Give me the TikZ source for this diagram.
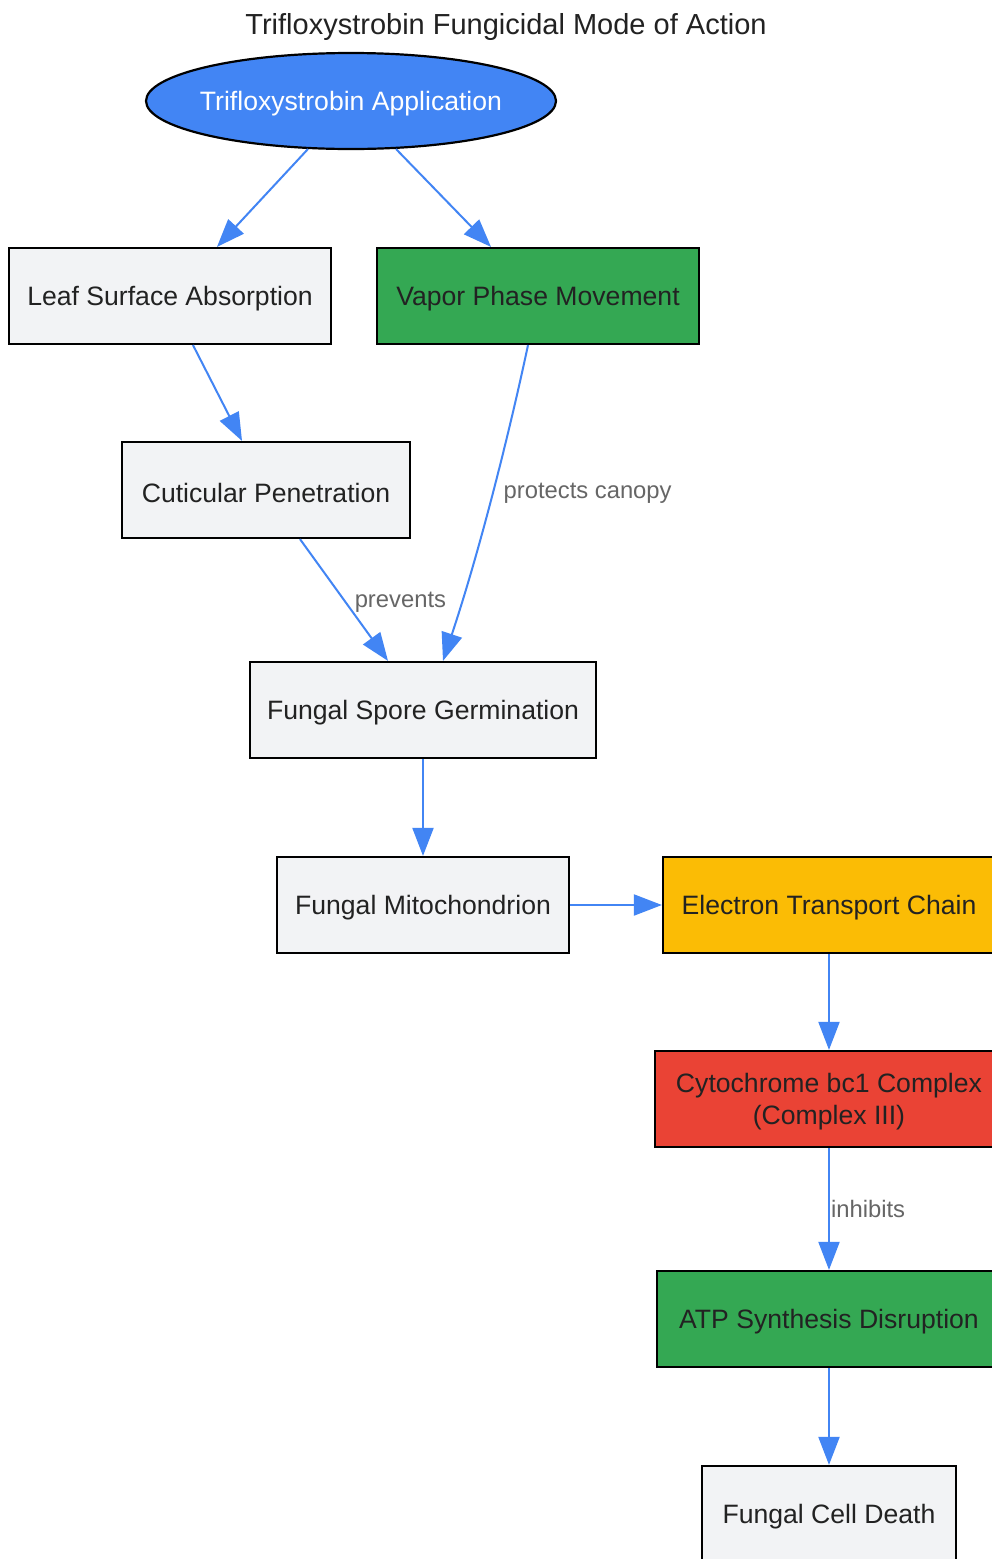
\documentclass[tikz,border=0pt]{standalone}
\usepackage{fontspec}
\setmainfont{Liberation Sans}
\usetikzlibrary{arrows.meta,shapes.geometric}
\definecolor{gbox}{HTML}{F2F3F5}
\definecolor{ggreen}{HTML}{34A853}
\definecolor{gyellow}{HTML}{FBBC05}
\definecolor{gred}{HTML}{EA4335}
\definecolor{gblue}{HTML}{4285F4}
\definecolor{txt}{HTML}{222222}
\definecolor{lbl}{HTML}{666666}
\newcommand{\lowr}[1]{\raisebox{-3pt}[\height][\depth]{#1}}
\tikzset{
  box/.style={draw=black, line width=2.2pt, rectangle, minimum height=96pt, inner sep=0pt, text=txt, font=\fontsize{26.6}{32}\selectfont, align=center},
  conn/.style={draw=gblue, line width=2pt, -{Triangle[length=28pt,width=21pt]}},
  elabel/.style={text=lbl, font=\fontsize{23.8}{28}\selectfont, inner sep=2pt}
}
\begin{document}
\begin{tikzpicture}[x=1pt,y=-1pt]
\clip (0,0) rectangle (992,1559);
\fill[white] (0,0) rectangle (992,1559);
\node[text=txt, font=\fontsize{29}{34}\selectfont] (title) at (506,24) {\lowr{Trifloxystrobin Fungicidal Mode of Action}};
\node[ellipse, draw=black, line width=2.2pt, fill=gblue, minimum width=410pt, minimum height=96pt, inner sep=0pt, text=white, font=\fontsize{26.6}{32}\selectfont] (app) at (351,101) {\makebox[0pt]{\lowr{Trifloxystrobin Application}}};
\node[box, fill=gbox, minimum width=322pt] (leaf) at (170,296) {\lowr{Leaf Surface Absorption}};
\node[box, fill=ggreen, minimum width=322pt] (vapor) at (538,296) {\lowr{Vapor Phase Movement}};
\node[box, fill=gbox, minimum width=288pt] (cut) at (266,490) {\lowr{Cuticular Penetration}};
\node[box, fill=gbox, minimum width=346pt] (spore) at (423,710) {\lowr{Fungal Spore Germination}};
\node[box, fill=gbox, minimum width=292pt] (mito) at (423,905) {\lowr{Fungal Mitochondrion}};
\node[box, fill=gyellow, minimum width=332pt] (etc) at (829,905) {\lowr{Electron Transport Chain}};
\node[box, fill=gred, minimum width=348pt] (cyto) at (829,1099) {\lowr{\begin{tabular}{@{}c@{}}Cytochrome bc1 Complex\\(Complex III)\end{tabular}}};
\node[box, fill=ggreen, minimum width=344pt] (atp) at (829,1319) {\lowr{ATP Synthesis Disruption}};
\node[box, fill=gbox, minimum width=254pt] (death) at (829,1514) {\lowr{Fungal Cell Death}};
\coordinate (a1) at (308,149);
\coordinate (a2) at (396,149);
\draw[conn] (a1) -- (leaf.north -| 217,0);
\draw[conn] (a2) -- (vapor.north -| 491,0);
\draw[conn] (leaf.south -| 193,0) -- (cut.north -| 242,0);
\draw[conn] (cut.south -| 300,0) -- node[elabel, pos=0.52, anchor=west, xshift=6pt] {prevents} (spore.north -| 388,0);
\draw[conn] (vapor.south -| 528,0) .. controls (510,430) and (480,550) .. node[elabel, pos=0.5, anchor=west, xshift=8pt] {protects canopy} (spore.north -| 443,0);
\draw[conn] (spore) -- (mito);
\draw[conn] (mito) -- (etc);
\draw[conn] (etc) -- (cyto);
\draw[conn] (cyto) -- node[elabel, pos=0.5, anchor=west, inner sep=1pt] {inhibits} (atp);
\draw[conn] (atp) -- (death);
\end{tikzpicture}
\end{document}
